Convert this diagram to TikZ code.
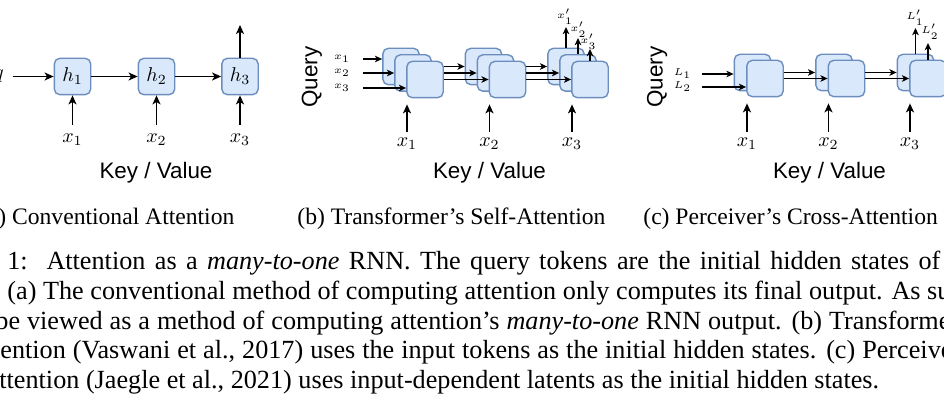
\documentclass[tikz,border=0pt]{standalone}
\usepackage{fontspec}
\setsansfont{Liberation Sans}
\newfontfamily\capfont{Liberation Serif}
\usetikzlibrary{arrows.meta,positioning}
\definecolor{boxfill}{HTML}{DAE8FC}
\definecolor{boxline}{HTML}{6C8EBF}

\begin{document}
\begin{tikzpicture}[x=0.5pt,y=-0.5pt,
    cell/.style={draw=boxline, fill=boxfill, line width=0.7pt, rounded corners=2.8pt,
      minimum size=18.2pt, inner sep=0pt, font=\fontsize{10}{12}\selectfont},
    arr/.style={-{Stealth[length=4.5pt,width=4pt,inset=1.2pt]}, line width=0.8pt},
    sarr/.style={-{Stealth[length=3.6pt,width=3.3pt,inset=1pt]}, line width=0.75pt},
    tok/.style={inner xsep=0pt, inner ysep=4pt, font=\fontsize{10}{12}\selectfont},
    small/.style={inner sep=0pt, font=\fontsize{5.5}{6}\selectfont},
    title/.style={font=\sffamily\fontsize{11.2}{13}\selectfont},
    captext/.style={inner sep=0pt, anchor=base west, font=\capfont\fontsize{11.8}{12}\selectfont},
    bodytext/.style={captext, font=\capfont\fontsize{13.1}{14}\selectfont}]
  \fill[white] (0,0) rectangle (944,401);
  \useasboundingbox (0,0) rectangle (944,401);

  % (a) conventional attention
  \node[tok, inner xsep=4.2pt] (q) at (-1,76.5) {$q$};
  \node[cell] (h1) at (72.5,76.5) {$h_1$};
  \node[cell] (h2) at (156.5,76.5) {$h_2$};
  \node[cell] (h3) at (240,76.5) {$h_3$};
  \coordinate (ya) at (240,25);
  \foreach \i/\x in {1/72.5,2/156.5,3/240}
    \node[tok, anchor=north] (ka\i) at (\x,125) {$x_\i$};
  \path[arr] (q) edge (h1)
             (h1) edge (h2)
             (h2) edge (h3)
             (h3) edge (ya);
  \foreach \i in {1,2,3}
    \draw[arr] (ka\i) -- (h\i);
  \node[title] (kva) at (156,173) {Key / Value};
  \node[captext] (capa) at (-2,225) {) Conventional Attention};

  % (b) transformer self-attention
  \node[title, rotate=90] (qb) at (312,77) {Query};
  \foreach \j/\y in {1/59,2/73,3/88}
    \node[small] (qx\j) at (342,\y) {$x_\j$};
  \foreach \g/\x in {1/401,2/483.5,3/566}
    \foreach \j in {1,2,3}
      \node[cell] (b\g\j) at ({\x+12*(\j-1)},{66.5+6.5*(\j-1)}) {};
  \foreach \j in {1,2,3}
    \draw[sarr, shorten <=6.3pt] (qx\j) -- (qx\j -| b1\j.west);
  \foreach \g/\h in {1/2,2/3}
    \foreach \j in {1,2,3}
      \draw[sarr] (b\g3.east |- b\g\j) -- (b\h\j);
  \foreach \j/\t in {1/27,2/38,3/49} {
    \coordinate (yb\j) at ({566+12*(\j-1)},\t);
    \draw[sarr] (b3\j) -- (yb\j);
  }
  \node[small] (xb1) at (565,17) {$x'_1$};
  \node[small] (xb2) at (578.5,30) {$x'_2$};
  \node[small] (xb3) at (588.5,42) {$x'_3$};
  \foreach \g/\x in {1/407,2/489.5,3/572} {
    \node[tok, inner ysep=2.5pt, anchor=north] (kb\g) at (\x,132) {$x_\g$};
    \draw[arr, shorten >=3pt] (kb\g) -- (kb\g |- b\g3.south);
  }
  \node[title] (kvb) at (489.5,173) {Key / Value};
  \node[captext] (capb) at (297,225) {(b) Transformer’s Self-Attention};

  % (c) perceiver cross-attention
  \node[title, rotate=90] (qc) at (657,77) {Query};
  \node[small] (ql1) at (682.5,74) {$L_1$};
  \node[small] (ql2) at (682.5,87) {$L_2$};
  \foreach \g/\x in {1/752.5,2/834,3/915.5}
    \foreach \j in {1,2}
      \node[cell] (c\g\j) at ({\x+12.5*(\j-1)},{72.5+6*(\j-1)}) {};
  \foreach \j in {1,2}
    \draw[sarr, shorten <=5pt] (ql\j) -- (ql\j -| c1\j.west);
  \foreach \g/\h in {1/2,2/3}
    \foreach \j in {1,2}
      \draw[sarr] (c\g2.east |- c\g\j) -- (c\h\j);
  \coordinate (yc1) at (915.5,28);
  \coordinate (yc2) at (928,43);
  \draw[sarr] (c31) -- (yc1);
  \draw[sarr] (c32) -- (yc2);
  \node[small] (lc1) at (915,18) {$L'_1$};
  \node[small] (lc2) at (930,32) {$L'_2$};
  \foreach \g/\x in {1/747,2/828.5,3/910} {
    \node[tok, inner ysep=2.5pt, anchor=north] (kc\g) at (\x,132) {$x_\g$};
    \draw[arr, shorten >=3pt] (kc\g) -- (kc\g |- c\g2.south);
  }
  \node[title] (kvc) at (829.5,173) {Key / Value};
  \node[captext] (capc) at (643,225) {(c) Perceiver’s Cross-Attention};

  % figure caption, cut at both sides
  \node[bodytext] (l1) at (7,270) {\makebox[466.5pt][s]{1:\ \ Attention as a \emph{many-to-one} RNN. The query tokens are the initial hidden states of}};
  \node[bodytext] (l2) at (7,299.5) {\makebox[471.5pt][s]{(a) The conventional method of computing attention only computes its final output. As su}};
  \node[bodytext] (l3) at (-5,329) {\makebox[477.5pt][s]{be viewed as a method of computing attention’s \emph{many-to-one} RNN output. (b) Transforme}};
  \node[bodytext] (l4) at (0,358.5) {\makebox[476pt][s]{ention (Vaswani et al., 2017) uses the input tokens as the initial hidden states. (c) Perceive}};
  \node[bodytext] (l5) at (-1,388) {ttention (Jaegle et al., 2021) uses input-dependent latents as the initial hidden states.};
\end{tikzpicture}
\end{document}
